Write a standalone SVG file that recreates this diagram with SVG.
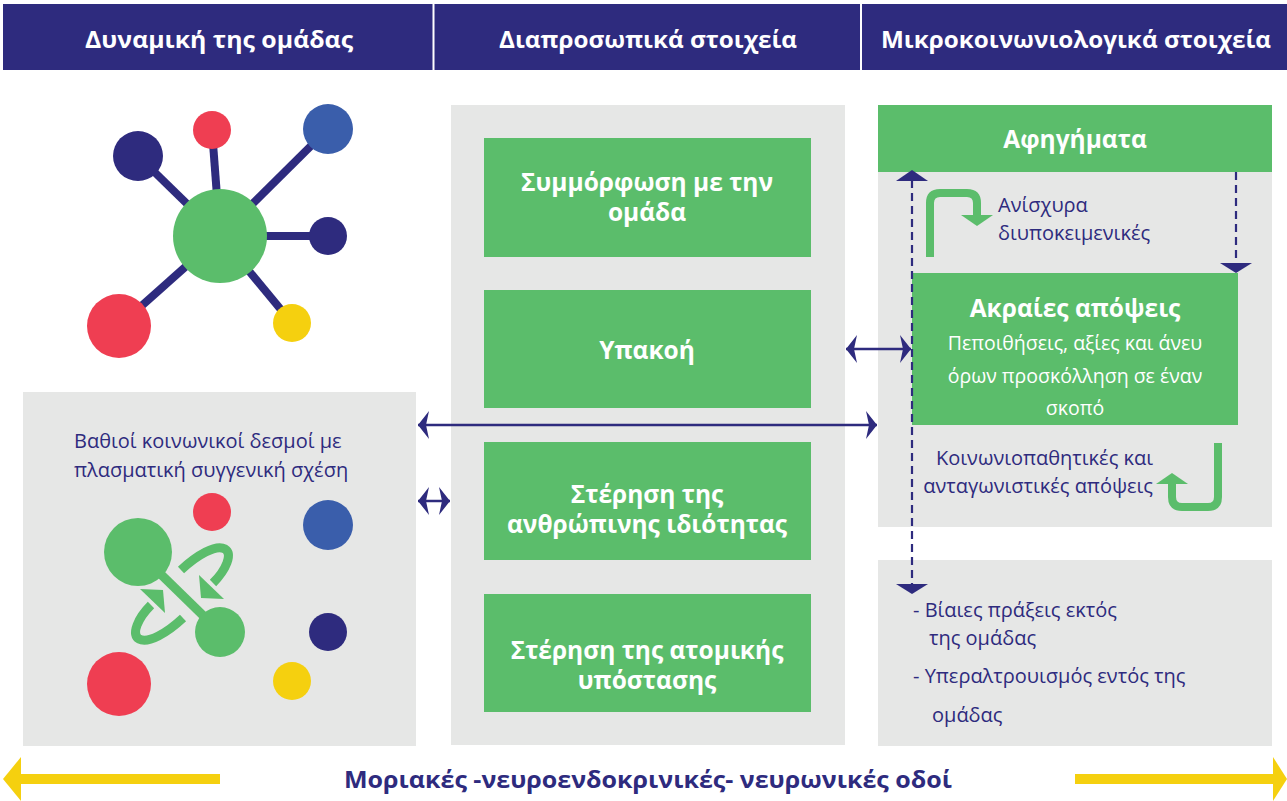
<svg xmlns="http://www.w3.org/2000/svg" width="1287" height="801" viewBox="0 0 1287 801">
<style>
.hdr{font-family:"Open Sans","Noto Sans",sans-serif;font-weight:700;font-size:23px;fill:#fff;text-anchor:middle}
.box{font-family:"Open Sans","Noto Sans",sans-serif;font-weight:700;font-size:24.5px;fill:#fff;text-anchor:middle}
.lbl{font-family:"Open Sans","Noto Sans",sans-serif;font-size:20px;fill:#2e2b7e}
.wlbl{font-family:"Open Sans","Noto Sans",sans-serif;font-size:19.5px;fill:#fff;text-anchor:middle}
.panel{fill:#e6e7e6}
.gbox{fill:#5bbd6b}
.navyline{stroke:#2e2b7e;stroke-width:8}
.dash{stroke:#2e2b7e;stroke-width:2.2;stroke-dasharray:8,5;fill:none}
.dbl{stroke:#2e2b7e;stroke-width:2.5;fill:none}
.garrow{stroke:#5bbd6b;stroke-width:8;fill:none}
.swap{stroke:#5bbd6b;stroke-width:9;fill:none}
.gfill{fill:#5bbd6b}
.nfill{fill:#2e2b7e}
.red{fill:#ef3e52}.blue{fill:#3a5eab}.navy{fill:#2e2b7e}.yellow{fill:#f5d00f}.green{fill:#5bbd6b}
</style>
<defs>
<marker id="ah" markerUnits="userSpaceOnUse" markerWidth="12" markerHeight="30" viewBox="0 -15 12 30" refX="11" refY="0" orient="auto-start-reverse">
<path d="M11,0 L0,-14 L3,0 L0,14 Z" fill="#2e2b7e"/>
</marker>
</defs>
<rect width="1287" height="801" fill="#fff"/>

<g id="header">
<rect x="3" y="4" width="1284" height="66" fill="#2e2b7e"/>
<line x1="433.5" y1="4" x2="433.5" y2="70" stroke="#fff" stroke-width="2"/>
<line x1="861" y1="4" x2="861" y2="70" stroke="#fff" stroke-width="2"/>
<text class="hdr" x="219" y="48" textLength="268" lengthAdjust="spacingAndGlyphs">Δυναμική της ομάδας</text>
<text class="hdr" x="648" y="48" textLength="298" lengthAdjust="spacingAndGlyphs">Διαπροσωπικά στοιχεία</text>
<text class="hdr" x="1076" y="48" textLength="390" lengthAdjust="spacingAndGlyphs">Μικροκοινωνιολογικά στοιχεία</text>
</g>

<g id="network">
<g class="navyline">
<line x1="220" y1="236" x2="138" y2="156"/>
<line x1="220" y1="236" x2="212" y2="130"/>
<line x1="220" y1="236" x2="328" y2="129"/>
<line x1="220" y1="236" x2="328" y2="236"/>
<line x1="220" y1="236" x2="292" y2="323"/>
<line x1="220" y1="236" x2="119" y2="326"/>
</g>
<circle class="navy" cx="138" cy="156" r="25"/>
<circle class="red" cx="212" cy="130" r="19"/>
<circle class="blue" cx="328" cy="129" r="25"/>
<circle class="navy" cx="328" cy="236" r="19"/>
<circle class="yellow" cx="292" cy="323" r="19"/>
<circle class="red" cx="119" cy="326" r="32"/>
<circle class="green" cx="220" cy="236" r="47"/>
</g>

<g id="left-panel">
<rect class="panel" x="23" y="392" width="393" height="354"/>
<text class="lbl" x="74" y="448">Βαθιοί κοινωνικοί δεσμοί με</text>
<text class="lbl" x="74" y="477">πλασματική συγγενική σχέση</text>
<circle class="red" cx="212" cy="512" r="19"/>
<circle class="blue" cx="328" cy="525" r="25"/>
<circle class="navy" cx="328" cy="632" r="19"/>
<circle class="yellow" cx="292" cy="681" r="19"/>
<circle class="red" cx="119" cy="684" r="32"/>
<line x1="138" y1="552" x2="220" y2="632" stroke="#5bbd6b" stroke-width="9"/>
<circle class="green" cx="138" cy="552" r="34"/>
<circle class="green" cx="220" cy="632" r="25"/>
<g id="swap-arrows">
<path class="swap" d="M181,570 C197,555 216,544 225,549 C233,554 226,570 213,583"/>
<polygon class="gfill" points="199,575 224,599 201,598"/>
<g transform="rotate(180 182 594)">
<path class="swap" d="M181,570 C197,555 216,544 225,549 C233,554 226,570 213,583"/>
<polygon class="gfill" points="199,575 224,599 201,598"/>
</g>
</g>
</g>

<g id="middle-panel">
<rect class="panel" x="451" y="105" width="394" height="640"/>
</g>
<g id="node-conformity">
<rect class="gbox" x="484" y="138" width="327" height="119"/>
<text class="box" x="647" y="191">Συμμόρφωση με την</text>
<text class="box" x="647" y="221">ομάδα</text>
</g>
<g id="node-obedience">
<rect class="gbox" x="484" y="290" width="327" height="118"/>
<text class="box" x="647" y="359">Υπακοή</text>
</g>
<g id="node-dehumanization">
<rect class="gbox" x="484" y="442" width="327" height="118"/>
<text class="box" x="647" y="503">Στέρηση της</text>
<text class="box" x="647" y="533">ανθρώπινης ιδιότητας</text>
</g>
<g id="node-deindividuation">
<rect class="gbox" x="484" y="594" width="327" height="118"/>
<text class="box" x="647" y="659">Στέρηση της ατομικής</text>
<text class="box" x="647" y="689">υπόστασης</text>
</g>

<g id="right-panel">
<rect class="panel" x="878" y="172" width="394" height="355"/>
<rect class="panel" x="878" y="560" width="394" height="186"/>
</g>
<g id="node-narratives">
<rect class="gbox" x="878" y="105" width="394" height="67"/>
<text class="box" x="1075" y="148">Αφηγήματα</text>
</g>
<g id="node-extreme">
<rect class="gbox" x="912" y="273" width="326" height="152"/>
<text class="box" x="1075" y="317">Ακραίες απόψεις</text>
<text class="wlbl" x="1075" y="350">Πεποιθήσεις, αξίες και άνευ</text>
<text class="wlbl" x="1075" y="383">όρων προσκόλληση σε έναν</text>
<text class="wlbl" x="1075" y="415">σκοπό</text>
</g>
<g id="node-weak">
<path class="garrow" d="M930,257 L930,203 Q930,193 940,193 L967,193 Q977,193 977,203 L977,216"/>
<polygon class="gfill" points="961,215 993,215 977,226"/>
<text class="lbl" x="998" y="212">Ανίσχυρα</text>
<text class="lbl" x="998" y="240">διυποκειμενικές</text>
</g>
<g id="node-sociopathic">
<path class="garrow" d="M1218,443 L1218,497 Q1218,507 1208,507 L1182,507 Q1172,507 1172,497 L1172,482"/>
<polygon class="gfill" points="1156,484 1188,484 1172,473"/>
<text class="lbl" x="1153" y="465" text-anchor="end">Κοινωνιοπαθητικές και</text>
<text class="lbl" x="1153" y="493" text-anchor="end">ανταγωνιστικές απόψεις</text>
</g>
<g id="node-outcomes">
<text class="lbl" x="913" y="617">- Βίαιες πράξεις εκτός</text>
<text class="lbl" x="929" y="645">της ομάδας</text>
<text class="lbl" x="913" y="683">- Υπεραλτρουισμός εντός της</text>
<text class="lbl" x="932" y="722">ομάδας</text>
</g>

<g id="connectors">
<line class="dash" x1="912" y1="180" x2="912" y2="586"/>
<polygon class="nfill" points="896,181 928,181 912,170"/>
<polygon class="nfill" points="896,584 928,584 912,594"/>
<line class="dash" x1="1236" y1="172" x2="1236" y2="264"/>
<polygon class="nfill" points="1220,263 1252,263 1236,273"/>
<line class="dbl" x1="846" y1="349" x2="911" y2="349" marker-start="url(#ah)" marker-end="url(#ah)"/>
<line class="dbl" x1="418" y1="425" x2="877" y2="425" marker-start="url(#ah)" marker-end="url(#ah)"/>
<line class="dbl" x1="418" y1="501" x2="450" y2="501" marker-start="url(#ah)" marker-end="url(#ah)"/>
</g>

<g id="bottom">
<rect x="18" y="774" width="202" height="10" fill="#f5d00f"/>
<polygon points="3,779 21,757 21,801" fill="#f5d00f"/>
<rect x="1075" y="774" width="200" height="10" fill="#f5d00f"/>
<polygon points="1287,779 1273,757 1273,801" fill="#f5d00f"/>
<text x="648" y="788" font-family="'Open Sans','Noto Sans',sans-serif" font-weight="700" font-size="23" fill="#2e2b7e" text-anchor="middle" textLength="608" lengthAdjust="spacingAndGlyphs">Μοριακές -νευροενδοκρινικές- νευρωνικές οδοί</text>
</g>
</svg>
